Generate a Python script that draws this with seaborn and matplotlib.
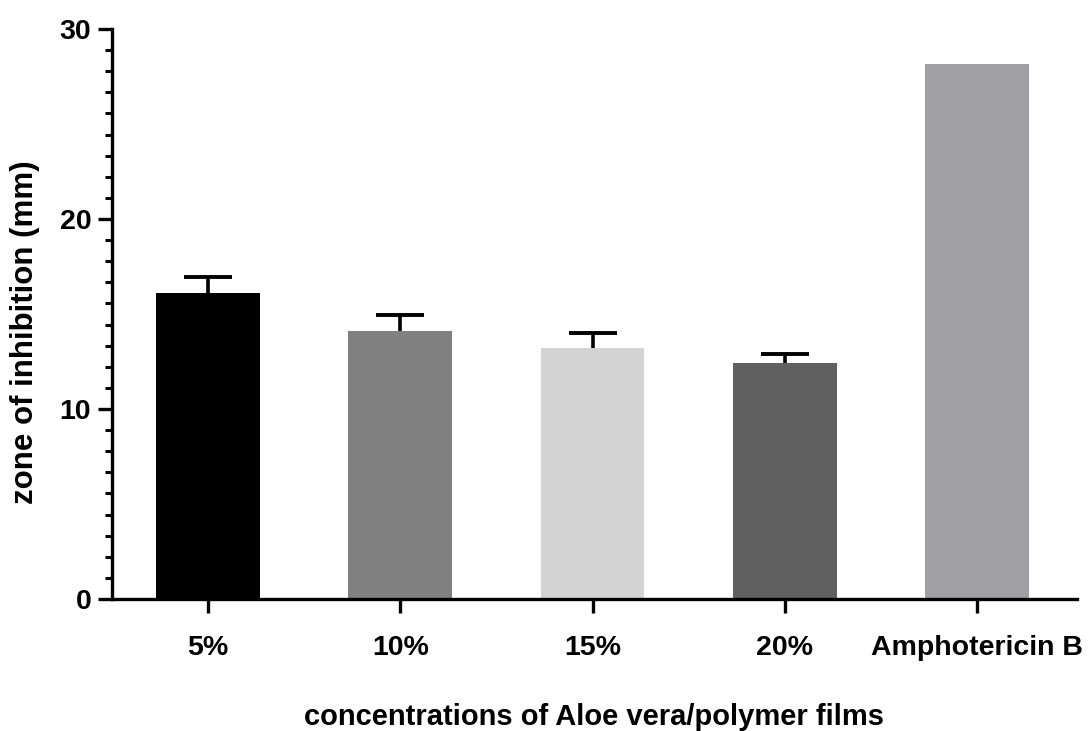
import matplotlib
matplotlib.use("Agg")
import matplotlib.pyplot as plt
import seaborn as sns
import numpy as np
from matplotlib.ticker import MultipleLocator, FixedLocator

categories = ["5%", "10%", "15%", "20%", "Amphotericin B"]
values = [16.1, 14.13, 13.19, 12.44, 28.17]
errors = [0.85, 0.80, 0.80, 0.43, 0.0]
colors = ["#000000", "#808080", "#d3d3d3", "#606060", "#a09fa4"]
y_ticks = [0, 10, 20, 30]

sns.set_style("ticks")
plt.rcParams["font.family"] = ["Liberation Sans", "DejaVu Sans"]
plt.rcParams["text.color"] = "black"
plt.rcParams["axes.labelcolor"] = "black"
plt.rcParams["xtick.color"] = "black"
plt.rcParams["ytick.color"] = "black"

fig = plt.figure(figsize=(10.9, 7.31), dpi=100)
ax = fig.add_axes([112 / 1090, 1 - 599 / 731, 965 / 1090, 570 / 731])

sns.barplot(x=categories, y=values, hue=categories, order=categories,
            hue_order=categories, palette=colors, saturation=1,
            legend=False, width=0.54, linewidth=0, ax=ax)

pos = np.arange(len(categories))
vals = np.array(values)
errs = np.array(errors)
mask = errs > 0
# one-sided (upper) error bars: stem + top cap only
ax.errorbar(pos[mask], vals[mask], yerr=[np.zeros(mask.sum()), errs[mask]],
            fmt="none", ecolor="black", elinewidth=2.6, capsize=0, zorder=5)
ax.plot(pos[mask], vals[mask] + errs[mask], linestyle="none", marker="_",
        markersize=34, markeredgewidth=2.8, color="black", zorder=6)

ax.set_ylim(0, 30)
ax.set_xlim(-0.5, 4.52)
ax.yaxis.set_major_locator(FixedLocator(y_ticks))
ax.yaxis.set_minor_locator(MultipleLocator(10 / 9))
ax.set_yticklabels([str(t) for t in y_ticks])

for s in ["top", "right"]:
    ax.spines[s].set_visible(False)
for s in ["left", "bottom"]:
    ax.spines[s].set_linewidth(2.4)
    ax.spines[s].set_color("black")

ax.tick_params(axis="both", which="major", length=10, width=2.4,
               color="black", labelcolor="black", labelsize=20.5)
ax.tick_params(axis="y", which="minor", length=5, width=2.2, color="black")
ax.tick_params(axis="y", which="major", pad=5)
ax.tick_params(axis="x", which="major", pad=16)
for lab in ax.get_xticklabels() + ax.get_yticklabels():
    lab.set_fontweight("bold")

ax.set_xlabel("concentrations of Aloe vera/polymer films", fontsize=21,
              fontweight="bold", color="black")
ax.set_ylabel("zone of inhibition (mm)", fontsize=22.5, fontweight="bold",
              color="black")
ax.xaxis.set_label_coords(0.5, -0.182)
ax.yaxis.set_label_coords(-0.075, 0.468)

fig.savefig("out.png", dpi=100)
